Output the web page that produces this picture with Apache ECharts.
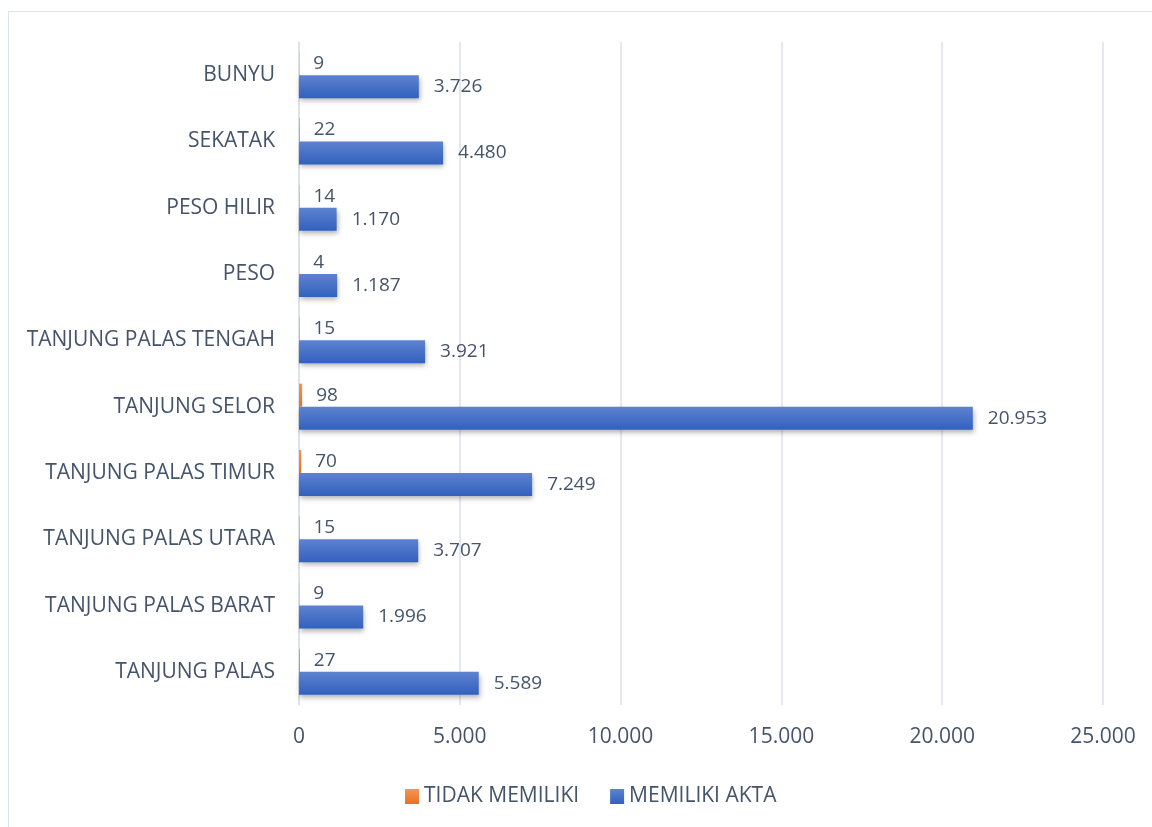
<!DOCTYPE html>
<html>
<head>
<meta charset="utf-8">
<script src="https://cdn.jsdelivr.net/npm/echarts@6/dist/echarts.min.js"></script>
<style>
  html, body { margin: 0; padding: 0; background: #fff; }
  #frame { position: absolute; left: 8px; top: 11px; width: 1200px; height: 900px; border: 1px solid #dfe3ea; }
  #main { position: absolute; left: 0; top: 0; width: 1152px; height: 827px; }
</style>
</head>
<body>
<div id="frame"></div>
<div id="main"></div>
<script>
// kecamatan, dari bawah ke atas
var categories = ['TANJUNG PALAS', 'TANJUNG PALAS BARAT', 'TANJUNG PALAS UTARA', 'TANJUNG PALAS TIMUR',
    'TANJUNG SELOR', 'TANJUNG PALAS TENGAH', 'PESO', 'PESO HILIR', 'SEKATAK', 'BUNYU'];
var tidakMemiliki = [27, 9, 15, 70, 98, 15, 4, 14, 22, 9];
var memilikiAkta = [5589, 1996, 3707, 7249, 20953, 3921, 1187, 1170, 4480, 3726];
var legendNames = ['TIDAK MEMILIKI', 'MEMILIKI AKTA'];

var textColor = '#44546a';
var font = '"Open Sans", sans-serif';

function fmt(v) {
    return String(v).replace(/\B(?=(\d{3})+(?!\d))/g, '.');
}

var myChart = echarts.init(document.getElementById('main'));

var option = {
    animation: false,
    textStyle: { fontFamily: font },
    grid: { left: 299, right: 49, top: 42, bottom: 122 },
    legend: {
        data: legendNames,
        top: 781,
        left: 400,
        itemWidth: 14,
        itemHeight: 15,
        itemGap: 31,
        icon: 'rect',
        textStyle: { color: textColor, fontSize: 21, fontFamily: font }
    },
    xAxis: {
        type: 'value',
        min: 0,
        max: 25000,
        interval: 5000,
        axisLine: { show: false },
        axisTick: { show: false },
        splitLine: { lineStyle: { color: '#dde1e8', width: 1.5 } },
        axisLabel: {
            color: textColor,
            fontSize: 21,
            margin: 22,
            formatter: function (v) { return fmt(v); }
        }
    },
    yAxis: {
        type: 'category',
        data: categories,
        axisLine: { lineStyle: { color: '#dde1e8', width: 1.5 } },
        axisTick: { show: false },
        axisLabel: { color: textColor, fontSize: 21, margin: 24 }
    },
    series: [
        {
            name: 'TIDAK MEMILIKI',
            type: 'bar',
            data: tidakMemiliki,
            barWidth: 23,
            barGap: '0%',
            itemStyle: {
                color: new echarts.graphic.LinearGradient(0, 0, 0, 1, [
                    { offset: 0, color: '#f4955a' },
                    { offset: 1, color: '#e8711f' }
                ])
            },
            label: {
                show: true,
                position: 'right',
                distance: 14,
                color: textColor,
                fontSize: 19,
                formatter: function (p) { return fmt(p.value); }
            }
        },
        {
            name: 'MEMILIKI AKTA',
            type: 'bar',
            data: memilikiAkta,
            barWidth: 23,
            barGap: '0%',
            itemStyle: {
                color: new echarts.graphic.LinearGradient(0, 0, 0, 1, [
                    { offset: 0, color: '#5e82cf' },
                    { offset: 1, color: '#3161bf' }
                ]),
                shadowColor: 'rgba(0,0,0,0.3)',
                shadowBlur: 5,
                shadowOffsetY: 3,
                shadowOffsetX: 1
            },
            label: {
                show: true,
                position: 'right',
                distance: 15,
                color: textColor,
                fontSize: 19,
                formatter: function (p) { return fmt(p.value); }
            }
        }
    ]
};

myChart.setOption(option);
</script>
</body>
</html>
